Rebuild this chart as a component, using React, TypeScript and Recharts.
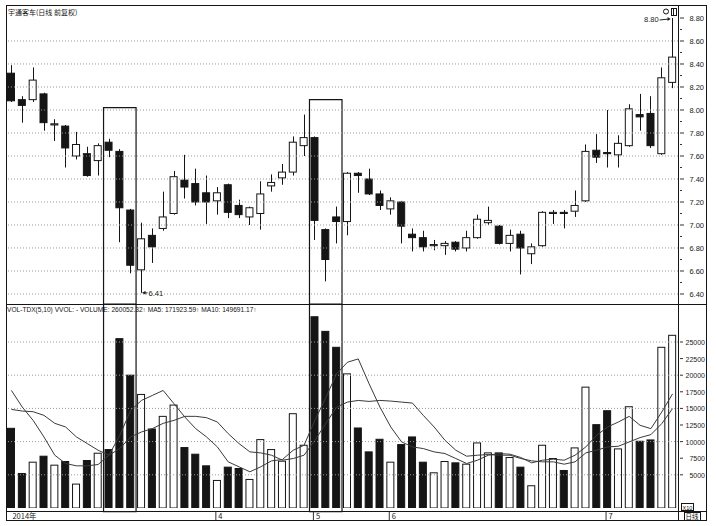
import React from 'react'
import {
  Bar,
  ComposedChart,
  Line,
  ReferenceArea,
  ReferenceDot,
  ReferenceLine,
  XAxis,
  YAxis,
} from 'recharts'

// daily candles, 2014 (forward adjusted)
const opens = [8.32, 8.09, 8.09, 8.14, 7.87, 7.86, 7.6, 7.62, 7.56, 7.72, 7.64, 7.13, 6.61, 6.91, 6.97, 7.1, 7.39, 7.36, 7.28, 7.21, 7.35, 7.17, 7.07, 7.1, 7.34, 7.41, 7.46, 7.69, 7.76, 6.96, 7.07, 7.03, 7.45, 7.4, 7.27, 7.14, 7.2, 6.92, 6.89, 6.82, 6.82, 6.85, 6.8, 6.89, 7.02, 6.99, 6.84, 6.92, 6.75, 6.82, 7.1, 7.11, 7.12, 7.21, 7.65, 7.63, 7.61, 7.69, 7.96, 7.97, 7.62, 8.24]
const highs = [8.39, 8.12, 8.37, 8.15, 7.92, 7.87, 7.81, 7.68, 7.71, 7.75, 7.66, 7.14, 7.02, 6.97, 7.29, 7.47, 7.61, 7.49, 7.43, 7.33, 7.36, 7.22, 7.16, 7.38, 7.44, 7.53, 7.77, 7.96, 7.77, 6.97, 7.16, 7.46, 7.46, 7.49, 7.3, 7.24, 7.21, 6.97, 6.95, 6.87, 6.86, 6.86, 6.95, 7.09, 7.16, 7.0, 6.96, 6.95, 6.84, 7.12, 7.13, 7.13, 7.3, 7.7, 7.79, 8.0, 7.78, 8.05, 8.14, 8.12, 8.37, 8.8]
const lows = [8.07, 7.89, 8.07, 7.82, 7.73, 7.5, 7.57, 7.42, 7.43, 7.59, 6.85, 6.58, 6.41, 6.67, 6.95, 7.09, 7.23, 7.17, 7.01, 7.09, 7.06, 7.06, 7.0, 6.96, 7.29, 7.35, 7.43, 7.6, 6.87, 6.51, 6.84, 6.91, 7.28, 7.26, 7.13, 7.09, 6.84, 6.77, 6.77, 6.78, 6.74, 6.77, 6.77, 6.88, 7.0, 6.83, 6.77, 6.57, 6.66, 6.81, 7.01, 6.97, 7.07, 7.2, 7.54, 7.5, 7.5, 7.68, 7.82, 7.67, 7.61, 8.19]
const closes = [8.08, 8.04, 8.26, 7.89, 7.88, 7.67, 7.7, 7.43, 7.69, 7.65, 7.15, 6.65, 6.88, 6.81, 7.07, 7.42, 7.33, 7.2, 7.2, 7.28, 7.11, 7.09, 7.15, 7.27, 7.37, 7.46, 7.72, 7.76, 7.04, 6.7, 7.03, 7.45, 7.43, 7.27, 7.17, 7.21, 6.99, 6.89, 6.81, 6.83, 6.84, 6.79, 6.89, 7.05, 7.04, 6.84, 6.91, 6.8, 6.81, 7.11, 7.11, 7.1, 7.17, 7.64, 7.59, 7.62, 7.71, 8.01, 7.94, 7.69, 8.28, 8.46]

// volume (x10) and its moving averages
const volumes = [12000, 5200, 6900, 7800, 6450, 7000, 3600, 7150, 8250, 8800, 25500, 20000, 17100, 11900, 13800, 15500, 9100, 8100, 6350, 4150, 6150, 5950, 4300, 10300, 8800, 7050, 14200, 9450, 28800, 26600, 24200, 20200, 12050, 8450, 10350, 6900, 9550, 10700, 6900, 5300, 7000, 6800, 6600, 9800, 8300, 8300, 7600, 6150, 3350, 9450, 7450, 5650, 9050, 18200, 12550, 14650, 8900, 15250, 10050, 10250, 24200, 26005]
const ma5 = [17700, 15200, 13200, 10700, 7950, 6700, 6350, 6350, 6550, 7950, 10950, 14700, 16200, 16950, 17700, 15700, 13700, 11950, 10700, 9200, 6950, 6200, 5450, 6200, 7100, 7300, 8700, 9450, 13200, 16600, 20200, 21950, 22450, 18700, 15200, 12200, 9950, 9200, 8950, 8450, 8200, 7450, 6700, 7200, 7950, 8200, 8100, 7600, 6800, 7200, 7350, 7200, 7950, 9200, 10950, 12200, 12950, 13800, 12450, 11950, 14450, 17192]
const ma10 = [14850, 14600, 14500, 13950, 12750, 12200, 10700, 9700, 8700, 7950, 8950, 10700, 11450, 11950, 12750, 13200, 13800, 13800, 13600, 12950, 11200, 9700, 8450, 8300, 7950, 7200, 7450, 7950, 10200, 12700, 15200, 15950, 16200, 16050, 16200, 16100, 15950, 15800, 13950, 12200, 10200, 8700, 7800, 7950, 8050, 7950, 7950, 7450, 7100, 6950, 6950, 6600, 6950, 8300, 8700, 9200, 9300, 9950, 10600, 11050, 12700, 14969]

// axis ticks
const priceTicks = [6.4, 6.5, 6.6, 6.7, 6.8, 6.9, 7.0, 7.1, 7.2, 7.3, 7.4, 7.5, 7.6, 7.7, 7.8, 7.9, 8.0, 8.1, 8.2, 8.3, 8.4, 8.5, 8.6, 8.7, 8.8]
const priceGrid = [6.4, 6.6, 6.8, 7.0, 7.2, 7.4, 7.6, 7.8, 8.0, 8.2, 8.4, 8.6]
const volTicks = [5000, 7500, 10000, 12500, 15000, 17500, 20000, 22500, 25000]
const volGrid = [5000, 10000, 15000, 20000, 25000]
const monthIdx = [0, 19, 28, 35, 55]
const monthLabels = ['2014年', '4', '5', '6', '7']

// highlighted stretches (first/last candle index) and box tops
const boxes = [
  { from: 9, to: 11, top: 8.02 },
  { from: 28, to: 30, top: 8.09 },
]

const PRICE_MIN = 6.313
const PRICE_MAX = 8.913
const VOL_MAX = 30720

const rows = opens.map((o, i) => ({
  i,
  open: o,
  high: highs[i],
  low: lows[i],
  close: closes[i],
  range: [lows[i], highs[i]],
  vol: volumes[i],
  ma5: ma5[i],
  ma10: ma10[i],
}))

const INK = '#151515'
const NUM_FONT = '"Liberation Sans", Arial, sans-serif'
const CJK_FONT = '"Noto Sans CJK SC", "Liberation Sans", sans-serif'

const Candle = (props: any) => {
  const { x, y, width, height, payload } = props
  const top0 = Math.min(y, y + height)
  const h = Math.abs(height)
  const span = payload.high - payload.low || 1
  const py = (v: number) => top0 + ((payload.high - v) / span) * h
  const up = payload.close >= payload.open
  const bTop = py(Math.max(payload.open, payload.close))
  const bBot = py(Math.min(payload.open, payload.close))
  const cx = Math.round(x + width / 2) + 0.5
  return (
    <g>
      <line x1={cx} x2={cx} y1={top0} y2={top0 + h} stroke={INK} strokeWidth={1} />
      <rect
        x={x + 0.5}
        y={bTop}
        width={width - 1}
        height={Math.max(bBot - bTop, 1)}
        fill={up ? '#fff' : INK}
        stroke={INK}
        strokeWidth={1}
      />
    </g>
  )
}

const VolBar = (props: any) => {
  const { x, y, width, height, payload } = props
  const up = payload.close >= payload.open
  return (
    <rect
      x={x + 0.5}
      y={y}
      width={width - 1}
      height={height}
      fill={up ? '#fff' : INK}
      stroke={INK}
      strokeWidth={1}
    />
  )
}

const PriceTick = (p: any) => {
  const v = Math.round(p.payload.value * 10)
  const major = v % 2 === 0
  return (
    <g>
      <line x1={p.x + 2} x2={p.x + (major ? 6 : 4)} y1={p.y} y2={p.y} stroke="#333" />
      {major && (
        <text x={p.x + 26} y={p.y + 3} textAnchor="end" fontSize={7.5} fontFamily={NUM_FONT} fill="#222">
          {p.payload.value.toFixed(2)}
        </text>
      )}
    </g>
  )
}

const VolTick = (p: any) => (
  <g>
    <line x1={p.x + 2} x2={p.x + 5} y1={p.y} y2={p.y} stroke="#333" />
    <text x={p.x + 27} y={p.y + 3} textAnchor="end" fontSize={7} fontFamily={NUM_FONT} fill="#222">
      {p.payload.value}
    </text>
  </g>
)

const MonthTick = (p: any) => {
  const k = monthIdx.indexOf(p.payload.value)
  if (k < 0) return <g />
  return (
    <g>
      {k > 0 && <line x1={p.x - 1.5} x2={p.x - 1.5} y1={p.y + 4} y2={p.y + 12} stroke="#333" />}
      <text x={p.x + 1} y={p.y + 11} fontSize={7.5} fontFamily={CJK_FONT} fill="#222">
        {monthLabels[k]}
      </text>
    </g>
  )
}

const HighMark = (p: any) => (
  <g>
    <text x={p.cx - 14} y={p.cy + 4} textAnchor="end" fontSize={7.5} fontFamily={NUM_FONT} fill="#222">
      {highs[highs.length - 1].toFixed(2)}
    </text>
    <line x1={p.cx - 13} x2={p.cx - 3} y1={p.cy + 2} y2={p.cy + 1} stroke="#222" />
    <path d={`M${p.cx - 2},${p.cy + 1} l-3,-2 l0,4 z`} fill="#222" />
  </g>
)

const LowMark = (p: any) => (
  <g>
    <line x1={p.cx + 1} x2={p.cx + 6} y1={p.cy} y2={p.cy} stroke="#222" />
    <path d={`M${p.cx + 1},${p.cy} l3,-2 l0,4 z`} fill="#222" />
    <text x={p.cx + 7} y={p.cy + 3} fontSize={7.5} fontFamily={NUM_FONT} fill="#222">
      {lows[12].toFixed(2)}
    </text>
  </g>
)

export default function App() {
  return (
    <div style={{ position: 'absolute', left: 0, top: 0, width: 716, height: 526, background: '#fff' }}>
      <div style={{ position: 'absolute', left: 0, top: 0 }}>
        <ComposedChart width={716} height={305} data={rows} margin={{ top: 5, right: 0, left: 6, bottom: 1 }}>
          <XAxis dataKey="i" hide />
          <YAxis
            orientation="right"
            width={38}
            domain={[PRICE_MIN, PRICE_MAX]}
            allowDataOverflow
            ticks={priceTicks}
            interval={0}
            axisLine={false}
            tickLine={false}
            tickSize={0}
            tickMargin={0}
            tick={PriceTick}
          />
          {priceGrid.map((v) => (
            <ReferenceLine key={v} y={v} stroke="#9a9a9a" strokeDasharray="1 2" />
          ))}
          {boxes.map((b) => (
            <ReferenceArea
              key={b.from}
              x1={b.from}
              x2={b.to}
              y1={b.top}
              y2={PRICE_MIN}
              fill="none"
              fillOpacity={0}
              stroke={INK}
              strokeWidth={1.2}
              ifOverflow="visible"
            />
          ))}
          <Bar dataKey="range" barSize={8} shape={Candle} isAnimationActive={false} />
          <ReferenceDot x={61} y={highs[61]} r={0} shape={HighMark} />
          <ReferenceDot x={12} y={lows[12]} r={0} shape={LowMark} />
        </ComposedChart>
      </div>
      <div style={{ position: 'absolute', left: 0, top: 304 }}>
        <ComposedChart width={716} height={222} data={rows} margin={{ top: 0, right: 0, left: 6, bottom: 5 }}>
          <XAxis
            dataKey="i"
            height={13}
            interval={0}
            axisLine={false}
            tickLine={false}
            tickSize={0}
            tickMargin={0}
            tick={MonthTick}
          />
          <YAxis
            orientation="right"
            width={38}
            domain={[0, VOL_MAX]}
            allowDataOverflow
            ticks={volTicks}
            interval={0}
            axisLine={false}
            tickLine={false}
            tickSize={0}
            tickMargin={0}
            tick={VolTick}
          />
          {volGrid.map((v) => (
            <ReferenceLine key={v} y={v} stroke="#9a9a9a" strokeDasharray="1 2" />
          ))}
          <Bar dataKey="vol" barSize={8} shape={VolBar} isAnimationActive={false} />
          <Line dataKey="ma10" type="linear" stroke="#3a3a3a" strokeWidth={1} dot={false} isAnimationActive={false} />
          <Line dataKey="ma5" type="linear" stroke="#3a3a3a" strokeWidth={1} dot={false} isAnimationActive={false} />
          {boxes.map((b) => (
            <ReferenceArea
              key={b.from}
              x1={b.from}
              x2={b.to}
              y1={VOL_MAX}
              y2={-550}
              fill="none"
              fillOpacity={0}
              stroke={INK}
              strokeWidth={1.2}
              ifOverflow="visible"
            />
          ))}
        </ComposedChart>
      </div>
      <svg
        width={716}
        height={526}
        style={{ position: 'absolute', left: 0, top: 0, pointerEvents: 'none' }}
      >
        <g stroke={INK} strokeWidth={1} fill="none">
          <line x1={6.5} x2={6.5} y1={5} y2={521} />
          <line x1={6} x2={707} y1={5.5} y2={5.5} />
          <line x1={706.5} x2={706.5} y1={5} y2={521} />
          <line x1={678.5} x2={678.5} y1={5} y2={521} />
          <line x1={6} x2={707} y1={304.5} y2={304.5} />
          <line x1={6} x2={707} y1={511.5} y2={511.5} />
          <line x1={6} x2={707} y1={520.5} y2={520.5} />
          <circle cx={666} cy={11.5} r={2.5} />
          <rect x={671.5} y={8.5} width={5} height={7} />
          <line x1={673.5} x2={673.5} y1={9} y2={15} />
          <rect x={681.5} y={503.5} width={12} height={7} />
          <rect x={684.5} y={512.5} width={16} height={8} />
        </g>
        <text x={8} y={15} fontSize={7} fontFamily={CJK_FONT} fill={INK}>
          宇通客车(日线 前复权)
        </text>
        <text x={7} y={311.5} fontSize={6.6} fontFamily={NUM_FONT} fill={INK}>
          VOL-TDX(5,10) VVOL: -   VOLUME: 260052.32↑  MA5: 171923.59↑  MA10: 149691.17↑
        </text>
        <text x={682.5} y={509.5} fontSize={5.5} fontFamily={NUM_FONT} fill={INK}>
          X10
        </text>
        <text x={685.5} y={519} fontSize={6.5} fontFamily={CJK_FONT} fill={INK}>
          日线
        </text>
      </svg>
    </div>
  )
}
